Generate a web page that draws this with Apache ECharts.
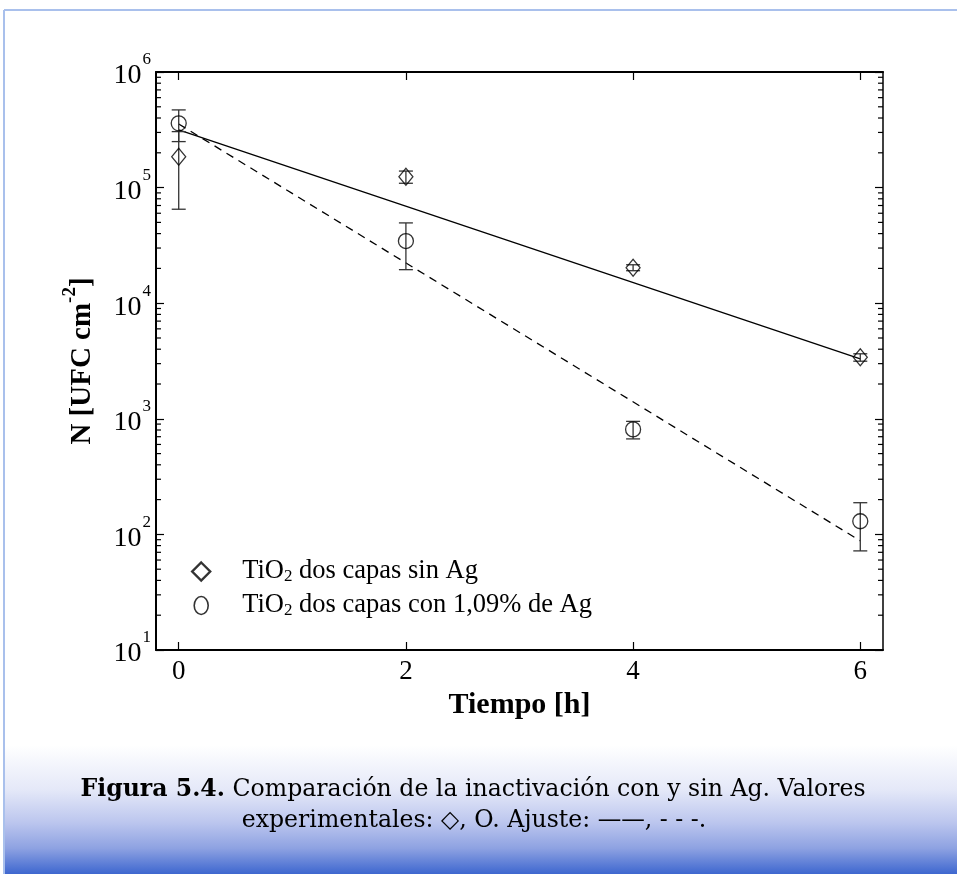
<!DOCTYPE html>
<html><head><meta charset="utf-8">
<script src="https://cdn.jsdelivr.net/npm/echarts@6/dist/echarts.min.js"></script>
<style>html,body{margin:0;padding:0;background:#fff}#c{width:957px;height:874px}</style>
</head><body><div id="c"></div><script>
// ---- data ----
const timeH = [0, 2, 4, 6];
const sinAg = [1.85e5, 1.24e5, 2.03e4, 3.4e3];
const sinAgErr = [1.2e5, 1.5e4, 1.2e3, 2.5e2];
const conAg = [3.6e5, 3.45e4, 810, 130];
const conAgErr = [1.1e5, 1.5e4, 140, 58];
const fitSinAgT = [0, 6];
const fitSinAgN = [3.16e5, 3.3e3];
const fitConAgT = [0, 6];
const fitConAgN = [3.55e5, 88];
const xTicks = [0, 2, 4, 6];
const minorMultipliers = [2, 3, 4, 5, 6, 7, 8, 9];
const minorDecades = [1e1, 1e2, 1e3, 1e4, 1e5];
const nameSin = 'TiO2 dos capas sin Ag';
const nameCon = 'TiO2 dos capas con 1,09% de Ag';

const SERIF = '"Liberation Serif", "DejaVu Serif", serif';
const CAP = '"DejaVu Serif", "Liberation Serif", serif';
const minorVals = [];
minorDecades.forEach(d => minorMultipliers.forEach(m => minorVals.push([0, m * d])));

function errData(t, v, e) { return t.map((x, i) => [x, v[i] - e[i], v[i] + e[i]]); }

function errRender(params, api) {
  const x = api.value(0);
  const lo = api.coord([x, api.value(1)]);
  const hi = api.coord([x, api.value(2)]);
  const w = 7;
  const st = { stroke: '#333', lineWidth: 1.3 };
  return { type: 'group', children: [
    { type: 'line', shape: { x1: lo[0], y1: lo[1], x2: hi[0], y2: hi[1] }, style: st },
    { type: 'line', shape: { x1: lo[0] - w, y1: lo[1], x2: lo[0] + w, y2: lo[1] }, style: st },
    { type: 'line', shape: { x1: hi[0] - w, y1: hi[1], x2: hi[0] + w, y2: hi[1] }, style: st }
  ]};
}

function minorRender(params, api) {
  const cs = params.coordSys;
  const y = api.coord([0, api.value(1)])[1];
  const st = { stroke: '#000', lineWidth: 1.2 };
  return { type: 'group', children: [
    { type: 'line', shape: { x1: cs.x, y1: y, x2: cs.x + 5, y2: y }, style: st },
    { type: 'line', shape: { x1: cs.x + cs.width, y1: y, x2: cs.x + cs.width - 5, y2: y }, style: st }
  ]};
}

const axisLineStyle = { color: '#000', width: 2 };
const tickStyle = { color: '#000', width: 1.2 };

const option = {
  animation: false,
  backgroundColor: '#fff',
  grid: { left: 156, right: 74, top: 72, bottom: 224 },
  xAxis: [{
    type: 'value', min: -0.2, max: 6.2, position: 'bottom',
    axisLine: { lineStyle: axisLineStyle, onZero: false },
    axisTick: { inside: true, length: 8, lineStyle: tickStyle, customValues: xTicks },
    axisLabel: { customValues: xTicks, color: '#000', fontFamily: SERIF, fontSize: 27, margin: 8 },
    splitLine: { show: false },
    name: 'Tiempo [h]', nameLocation: 'middle', nameGap: 34,
    nameTextStyle: { fontFamily: SERIF, fontSize: 30, fontWeight: 'bold', color: '#000' }
  }, {
    type: 'value', min: -0.2, max: 6.2, position: 'top',
    axisLine: { lineStyle: axisLineStyle, onZero: false },
    axisTick: { inside: true, length: 8, lineStyle: tickStyle, customValues: xTicks },
    axisLabel: { show: false },
    splitLine: { show: false }
  }],
  yAxis: [{
    type: 'log', logBase: 10, min: 10, max: 1e6, position: 'left',
    axisLine: { lineStyle: axisLineStyle, onZero: false },
    axisTick: { inside: true, length: 8, lineStyle: tickStyle },
    axisLabel: {
      color: '#000', margin: 5,
      formatter: v => '{b|10}{e|' + Math.round(Math.log10(v)) + '}',
      rich: {
        b: { fontFamily: SERIF, fontSize: 28, color: '#000', padding: [8, 0, 0, 0] },
        e: { fontFamily: SERIF, fontSize: 17, color: '#000', padding: [0, 0, 24, 1] }
      }
    },
    splitLine: { show: false },
    name: '{n|N [UFC cm}{s|-2}{n|]}', nameLocation: 'middle', nameGap: 52, nameRotate: 90,
    nameTextStyle: {
      rich: {
        n: { fontFamily: SERIF, fontSize: 29, fontWeight: 'bold', color: '#000' },
        s: { fontFamily: SERIF, fontSize: 19, fontWeight: 'bold', color: '#000', padding: [0, 0, 24, 0] }
      }
    }
  }, {
    type: 'log', logBase: 10, min: 10, max: 1e6, position: 'right',
    axisLine: { lineStyle: { color: '#000', width: 1.5 }, onZero: false },
    axisTick: { inside: true, length: 8, lineStyle: tickStyle },
    axisLabel: { show: false },
    splitLine: { show: false }
  }],
  legend: {
    orient: 'vertical', left: 186, top: 553, itemGap: 7, itemWidth: 18, itemHeight: 18,
    data: [
      { name: nameSin, icon: 'diamond', itemStyle: { color: '#fff', borderColor: '#000', borderWidth: 2.4 } },
      { name: nameCon, icon: 'path://M0,9 A7,9 0 1,1 14,9 A7,9 0 1,1 0,9 Z', itemStyle: { color: '#fff', borderColor: '#000', borderWidth: 1.6 } }
    ],
    formatter: n => n.replace('TiO2', 'TiO{sub|2}'),
    textStyle: {
      fontFamily: SERIF, fontSize: 26.5, color: '#000', padding: [0, 0, 0, 27],
      rich: { sub: { fontFamily: SERIF, fontSize: 17, color: '#000', padding: [10, 0, 0, 0] } }
    }
  },
  graphic: [
    { type: 'rect', silent: true, z: -10, shape: { x: 5, y: 745, width: 952, height: 129 },
      style: { fill: new echarts.graphic.LinearGradient(0, 0, 0, 1, [
        { offset: 0, color: '#ffffff' }, { offset: 0.35, color: '#e4e8f8' },
        { offset: 0.6, color: '#bcc6ee' }, { offset: 0.8, color: '#8ea2e2' }, { offset: 1, color: '#3e67cf' }]) } },
    { type: 'line', silent: true, shape: { x1: 4, y1: 10, x2: 957, y2: 10 }, style: { stroke: '#a9c0ec', lineWidth: 2 } },
    { type: 'line', silent: true, shape: { x1: 4, y1: 10, x2: 4, y2: 874 }, style: { stroke: '#a9c0ec', lineWidth: 2 } },
    { type: 'text', silent: true, x: 473, y: 790, style: {
      text: '{b|Figura 5.4.} Comparación de la inactivación con y sin Ag. Valores',
      align: 'center', verticalAlign: 'middle', font: '23.6px ' + CAP, fill: '#000',
      rich: { b: { fontFamily: CAP, fontSize: 23.6, fontWeight: 'bold', fill: '#000' } } } },
    { type: 'text', silent: true, x: 474, y: 821, style: {
      text: 'experimentales: ◇, O. Ajuste: ——, - - -.',
      align: 'center', verticalAlign: 'middle', font: '23.6px ' + CAP, fill: '#000' } }
  ],
  series: [
    { type: 'custom', silent: true, renderItem: minorRender, data: minorVals, encode: { x: 0, y: 1 }, z: 1 },
    { type: 'line', name: 'fitSin', data: fitSinAgT.map((t, i) => [t, fitSinAgN[i]]), symbol: 'none', silent: true,
      lineStyle: { color: '#000', width: 1.3, type: 'solid' }, z: 2 },
    { type: 'line', name: 'fitCon', data: fitConAgT.map((t, i) => [t, fitConAgN[i]]), symbol: 'none', silent: true,
      lineStyle: { color: '#000', width: 1.3, type: [8, 6] }, z: 2 },
    { type: 'custom', name: 'errSin', silent: true, renderItem: errRender, data: errData(timeH, sinAg, sinAgErr), encode: { x: 0, y: [1, 2] }, z: 3 },
    { type: 'custom', name: 'errCon', silent: true, renderItem: errRender, data: errData(timeH, conAg, conAgErr), encode: { x: 0, y: [1, 2] }, z: 3 },
    { type: 'scatter', name: nameSin, data: timeH.map((t, i) => [t, sinAg[i]]), symbol: 'diamond', symbolSize: [14, 17],
      itemStyle: { color: 'rgba(0,0,0,0)', borderColor: '#000', borderWidth: 1.3 }, z: 4 },
    { type: 'scatter', name: nameCon, data: timeH.map((t, i) => [t, conAg[i]]), symbol: 'circle', symbolSize: 15,
      itemStyle: { color: 'rgba(0,0,0,0)', borderColor: '#000', borderWidth: 1.3 }, z: 4 }
  ]
};
const chart = echarts.init(document.getElementById('c'), null, { renderer: 'canvas' });
chart.setOption(option);
</script></body></html>
